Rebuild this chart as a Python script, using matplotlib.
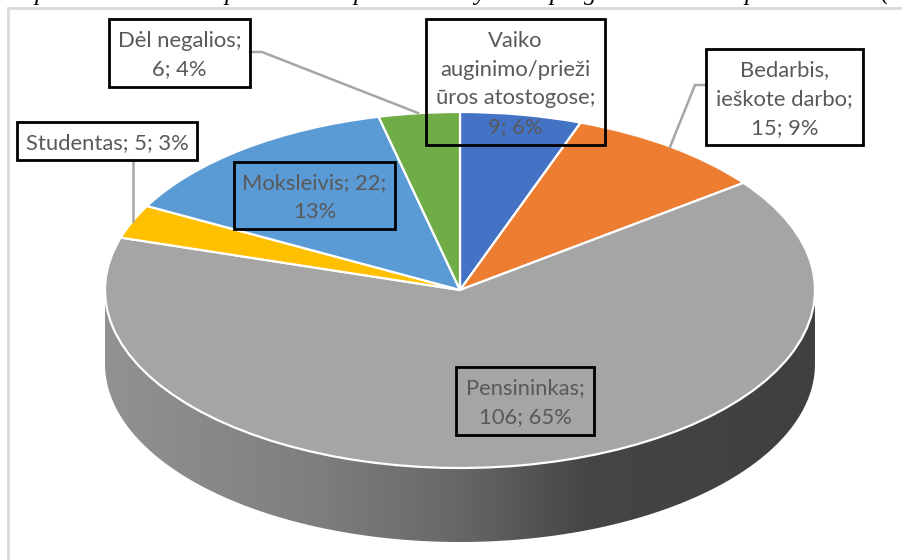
import numpy as np
import matplotlib
matplotlib.use('Agg')
import matplotlib.pyplot as plt
from matplotlib.colors import LinearSegmentedColormap
from matplotlib.patches import PathPatch, Rectangle
from matplotlib.path import Path

W, H = 902, 560

# slices, clockwise from 12 o'clock
categories = ['Vaiko auginimo/priežiūros atostogose', 'Bedarbis, ieškote darbo', 'Pensininkas',
              'Studentas', 'Moksleivis', 'Dėl negalios']
values = [9, 15, 106, 5, 22, 6]
percents = [6, 9, 65, 3, 13, 4]
colors = ['#4472C4', '#ED7D31', '#A5A5A5', '#FFC000', '#5B9BD5', '#70AD47']

label_texts = ['Vaiko\nauginimo/prieži\nūros atostogose;\n9; 6%',
               'Bedarbis,\nieškote darbo;\n15; 9%',
               'Pensininkas;\n106; 65%',
               'Studentas; 5; 3%',
               'Moksleivis; 22;\n13%',
               'Dėl negalios;\n6; 4%']
# label boxes in pixels: left, top, right, bottom
label_boxes = [(426, 19, 605, 145), (706, 49, 863, 145), (456, 367, 594, 435),
               (17, 122, 197, 160), (234, 162, 395, 229), (109, 19, 250, 87)]
leaders = [([250, 262, 418], [52, 52, 113]),
           ([133, 133], [160, 221]),
           ([706, 695, 670], [85, 85, 147])]

# remains of the cropped caption line above the chart
caption_bits = [('p', 34), ('p', 224), ('t', 337), ('p', 353), ('y', 474), ('p', 549), ('g', 584), ('p', 744), ('(', 880)]

cx, cy, rx, ry = 460, 290, 355, 178
depth = 74

plt.rcParams['font.family'] = ['Lato', 'DejaVu Sans']

fig = plt.figure(figsize=(W / 100, H / 100), dpi=100)

# pie axes: unit circle stretched to the tilted ellipse
ax = fig.add_axes([0, 0, 1, 1])
ax.pie(values, colors=colors, startangle=90, counterclock=False, radius=1,
       wedgeprops={'edgecolor': 'white', 'linewidth': 1.6, 'zorder': 3})

# side of the disc with horizontal gradient
d = depth / ry
t = np.linspace(np.pi, 2 * np.pi, 200)
xs = np.cos(t)
ys = np.sin(t)
verts = np.r_[np.c_[xs, ys], np.c_[xs[::-1], ys[::-1] - d]]
side = PathPatch(Path(verts), transform=ax.transData, facecolor='none', edgecolor='none')
ax.add_patch(side)
cmap = LinearSegmentedColormap.from_list('side', [(0, '#929292'), (0.3, '#7e7e7e'), (0.5, '#676767'),
                                                  (0.68, '#454545'), (1, '#404040')])
grad = ax.imshow(np.linspace(0, 1, 256).reshape(1, -1), cmap=cmap, aspect='auto',
                 extent=(-1, 1, -1 - d, 0), zorder=1)
grad.set_clip_path(side)

ax.set_aspect('auto')
ax.set_xlim(-cx / rx, (W - cx) / rx)
ax.set_ylim((cy - H) / ry, cy / ry)
ax.axis('off')

# overlay in pixel coordinates for frame, leaders and labels
over = fig.add_axes([0, 0, 1, 1], facecolor='none')
over.set_xlim(0, W)
over.set_ylim(H, 0)
over.axis('off')

over.plot([7.5, 7.5, W], [H, 8, 8], color='#D9D9D9', lw=2, solid_joinstyle='miter')

for ch, x in caption_bits:
    over.text(x, 0, ch, family='Liberation Serif', style='italic', fontsize=18, color='black',
              ha='left', va='baseline', clip_on=True)

for lx, ly in leaders:
    over.plot(lx, ly, color='#A6A6A6', lw=1.8, zorder=4)

for text, (x0, y0, x1, y1) in zip(label_texts, label_boxes):
    over.add_patch(Rectangle((x0, y0), x1 - x0, y1 - y0, facecolor='none', edgecolor='black', lw=2, zorder=5))
    over.text((x0 + x1) / 2, (y0 + y1) / 2 + 2, text, color='#595959', fontsize=15.8,
              ha='center', va='center', linespacing=1.56, zorder=6)

fig.savefig('out.png', dpi=100)
